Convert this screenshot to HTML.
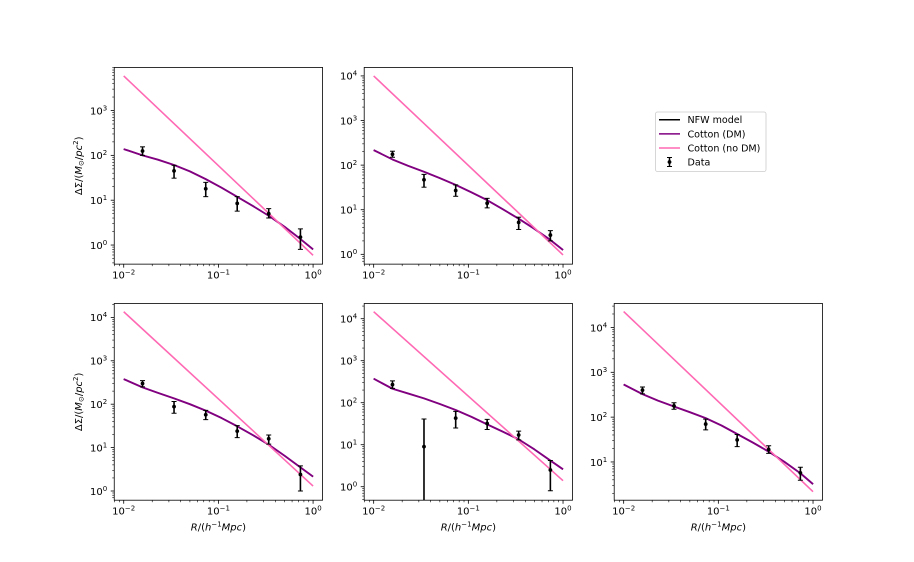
<!DOCTYPE html>
<html lang="en">
<head>
<meta charset="utf-8">
<title>Lensing profile panels</title>
<style>
html,body{margin:0;padding:0;background:#fff;}
svg{display:block;font-family:"DejaVu Sans","Liberation Sans",sans-serif;}
text{fill:#000;font-size:10px;}
.legend-text{font-size:9.55px;}
</style>
</head>
<body>
<svg id="figure" xmlns="http://www.w3.org/2000/svg" width="914" height="562" viewBox="0 0 914 562">
<rect width="914" height="562" fill="#fff"></rect>
<g id="panels"></g>
<g>
<rect x="655.5" y="112" width="110.5" height="59.5" rx="2" fill="#fff" fill-opacity="0.8" stroke="#ccc" stroke-width="0.8"></rect>
<g>
<line x1="659" x2="680" y1="119.7" y2="119.7" stroke="#000" stroke-width="1.5"></line>
<text class="legend-text" x="687.5" y="123.2">NFW model</text>
</g>
<g>
<line x1="659" x2="680" y1="133.9" y2="133.9" stroke="#800080" stroke-width="1.5"></line>
<text class="legend-text" x="687.5" y="137.4">Cotton (DM)</text>
</g>
<g>
<line x1="659" x2="680" y1="148" y2="148" stroke="#ff69b4" stroke-width="1.5"></line>
<text class="legend-text" x="687.5" y="151.5">Cotton (no DM)</text>
</g>
<g>
<line x1="669.5" x2="669.5" y1="157.5" y2="166.5" stroke="#000" stroke-width="1.5"></line>
<line x1="667" x2="672" y1="157.5" y2="157.5" stroke="#000" stroke-width="1"></line>
<line x1="667" x2="672" y1="166.5" y2="166.5" stroke="#000" stroke-width="1"></line>
<circle cx="669.5" cy="162" r="1.9" fill="#000"></circle>
<text class="legend-text" x="687.5" y="165.7">Data</text>
</g>
</g>
</svg>
<script>
const dataRadius = [0.0158, 0.034, 0.0735, 0.158, 0.34, 0.735];
const curveRadius = [0.01, 0.0158, 0.023, 0.034, 0.05, 0.0735, 0.108, 0.158, 0.232, 0.34, 0.5, 0.735, 1.0];
const noDmRadius = [0.01, 1.0];
const xTickExponents = [-2, -1, 0];

const panel1Values = [125, 45, 18, 8.5, 5, 1.5];
const panel1Low = [100, 31, 12, 5.7, 4, 0.8];
const panel1High = [155, 60, 25, 12, 6.5, 2.3];
const panel1Nfw = [138, 100, 80, 61, 44, 29.5, 19, 11.9, 7.4, 4.5, 2.55, 1.36, 0.8];
const panel1Cotton = [138, 100, 80, 61, 44, 29.5, 19, 11.9, 7.4, 4.5, 2.55, 1.36, 0.8];
const panel1NoDm = [5900, 0.59];
const panel1YTicks = [0, 1, 2, 3];

const panel2Values = [175, 47, 27, 14, 5.2, 2.7];
const panel2Low = [150, 32, 20, 11, 3.6, 2];
const panel2High = [205, 62, 36, 18, 6.8, 3.4];
const panel2Nfw = [217, 134, 97, 71, 51, 36, 24.5, 16.4, 10.2, 6.3, 3.7, 2.1, 1.25];
const panel2Cotton = [217, 134, 97, 71, 51, 36, 24.5, 16.4, 10.2, 6.3, 3.7, 2.1, 1.25];
const panel2NoDm = [10000, 0.97];
const panel2YTicks = [0, 1, 2, 3, 4];

const panel3Values = [300, 88, 57, 24, 16, 2.4];
const panel3Low = [250, 62, 44, 17, 12, 1];
const panel3High = [350, 115, 72, 32, 19.5, 3.8];
const panel3Nfw = [379, 244, 182, 136, 100, 71, 48, 31, 19.3, 11.7, 6.5, 3.5, 2.14];
const panel3Cotton = [379, 244, 182, 136, 100, 71, 48, 31, 19.3, 11.7, 6.5, 3.5, 2.14];
const panel3NoDm = [13500, 1.3];
const panel3YTicks = [0, 1, 2, 3, 4];

const panel4Values = [270, 9, 43, 32, 17, 2.5];
const panel4Low = [220, 0.1, 25, 23, 13, 0.8];
const panel4High = [330, 41, 62, 40, 21, 4.2];
const panel4Nfw = [373, 215, 166, 127, 93, 67, 46, 30.5, 20.4, 13.4, 7.7, 4.2, 2.6];
const panel4Cotton = [373, 215, 166, 127, 93, 67, 46, 30.5, 20.4, 13.4, 7.7, 4.2, 2.6];
const panel4NoDm = [14700, 1.39];
const panel4YTicks = [0, 1, 2, 3, 4];

const panel5Values = [400, 178, 70, 31, 19, 5.7];
const panel5Low = [330, 150, 52, 22, 15.5, 3.9];
const panel5High = [470, 210, 90, 41, 23, 7.6];
const panel5Nfw = [535, 326, 234, 173, 129, 95, 65, 42, 27, 17, 10, 5.6, 3.2];
const panel5Cotton = [535, 326, 234, 173, 129, 95, 65, 42, 27, 17, 10, 5.6, 3.2];
const panel5NoDm = [22700, 2.17];
const panel5YTicks = [1, 2, 3, 4];

const SVG_NS = 'http://www.w3.org/2000/svg';
const AX_W = 208.3;
const AX_H = 196.7;
const COL_LEFT = [114.25, 364.2, 614.2];
const ROW_TOP = [67.44, 303.5];
const LOG_X_MIN = -2.1;
const LOG_X_MAX = 0.1;

const panels = [
  {id: 1, col: 0, row: 0, logMin: -0.426, logMax: 3.961, values: panel1Values, low: panel1Low, high: panel1High, nfw: panel1Nfw, cotton: panel1Cotton, noDm: panel1NoDm, yTicks: panel1YTicks, yLabel: true, xLabel: false},
  {id: 2, col: 1, row: 0, logMin: -0.22, logMax: 4.19, values: panel2Values, low: panel2Low, high: panel2High, nfw: panel2Nfw, cotton: panel2Cotton, noDm: panel2NoDm, yTicks: panel2YTicks, yLabel: false, xLabel: false},
  {id: 3, col: 0, row: 1, logMin: -0.212, logMax: 4.32, values: panel3Values, low: panel3Low, high: panel3High, nfw: panel3Nfw, cotton: panel3Cotton, noDm: panel3NoDm, yTicks: panel3YTicks, yLabel: true, xLabel: true},
  {id: 4, col: 1, row: 1, logMin: -0.321, logMax: 4.362, values: panel4Values, low: panel4Low, high: panel4High, nfw: panel4Nfw, cotton: panel4Cotton, noDm: panel4NoDm, yTicks: panel4YTicks, yLabel: false, xLabel: true},
  {id: 5, col: 2, row: 1, logMin: 0.147, logMax: 4.535, values: panel5Values, low: panel5Low, high: panel5High, nfw: panel5Nfw, cotton: panel5Cotton, noDm: panel5NoDm, yTicks: panel5YTicks, yLabel: false, xLabel: true}
];

function mk(tag, attrs, parent) {
  const el = document.createElementNS(SVG_NS, tag);
  for (const k in attrs) el.setAttribute(k, attrs[k]);
  parent.appendChild(el);
  return el;
}

function addSpan(parent, content, opts) {
  const s = mk('tspan', opts || {}, parent);
  s.textContent = content;
  return s;
}

function powerLabel(parent, exponent, attrs) {
  const t = mk('text', attrs, parent);
  addSpan(t, '10');
  addSpan(t, (exponent < 0 ? '\u2212' : '') + Math.abs(exponent), {dy: '-4', style: 'font-size:7px'});
  return t;
}

const root = document.getElementById('panels');

panels.forEach(function (p) {
  const left = COL_LEFT[p.col];
  const top = ROW_TOP[p.row];
  const sx = function (r) { return left + (Math.log10(r) - LOG_X_MIN) / (LOG_X_MAX - LOG_X_MIN) * AX_W; };
  const sy = function (v) { return top + AX_H - (Math.log10(v) - p.logMin) / (p.logMax - p.logMin) * AX_H; };
  const pts = function (xs, ys) { return xs.map(function (x, i) { return sx(x).toFixed(2) + ',' + sy(ys[i]).toFixed(2); }).join(' '); };

  const g = mk('g', {}, root);
  
  

  const clip = mk('clipPath', {id: 'clip-' + p.id}, g);
  mk('rect', {x: left, y: top, width: AX_W, height: AX_H}, clip);

  const marks = mk('g', {'clip-path': 'url(#clip-' + p.id + ')'}, g);
  
  

  const nfwLine = mk('polyline', {points: pts(curveRadius, p.nfw), fill: 'none', stroke: '#000', 'stroke-width': 1.2}, marks);
  
  

  const cottonLine = mk('polyline', {points: pts(curveRadius, p.cotton), fill: 'none', stroke: '#800080', 'stroke-width': 1.9, 'stroke-linejoin': 'round'}, marks);
  
  

  const noDmLine = mk('polyline', {points: pts(noDmRadius, p.noDm), fill: 'none', stroke: '#ff69b4', 'stroke-width': 1.6}, marks);
  
  

  dataRadius.forEach(function (r, i) {
    const pt = mk('g', {}, marks);
    
    
    const x = sx(r);
    mk('line', {x1: x, x2: x, y1: sy(p.low[i]), y2: sy(p.high[i]), stroke: '#000', 'stroke-width': 1.6}, pt);
    mk('line', {x1: x - 2.5, x2: x + 2.5, y1: sy(p.low[i]), y2: sy(p.low[i]), stroke: '#000', 'stroke-width': 1}, pt);
    mk('line', {x1: x - 2.5, x2: x + 2.5, y1: sy(p.high[i]), y2: sy(p.high[i]), stroke: '#000', 'stroke-width': 1}, pt);
    mk('circle', {cx: x, cy: sy(p.values[i]), r: 1.9, fill: '#000'}, pt);
  });

  const frame = mk('rect', {x: left, y: top, width: AX_W, height: AX_H, fill: 'none', stroke: '#000', 'stroke-width': 0.8}, g);
  
  

  const xAxis = mk('g', {}, g);
  
  
  const bottom = top + AX_H;

  for (let d = -3; d <= 0; d++) {
    for (let k = 2; k <= 9; k++) {
      const val = k * Math.pow(10, d);
      const lg = Math.log10(val);
      if (lg < LOG_X_MIN || lg > LOG_X_MAX) continue;
      const x = sx(val);
      mk('line', {x1: x, x2: x, y1: bottom, y2: bottom + 2, stroke: '#000', 'stroke-width': 0.6}, xAxis);
    }
  }
  xTickExponents.forEach(function (e) {
    const x = sx(Math.pow(10, e));
    mk('line', {x1: x, x2: x, y1: bottom, y2: bottom + 3.5, stroke: '#000', 'stroke-width': 0.8}, xAxis);
    const lab = powerLabel(xAxis, e, {x: x, y: bottom + 14.5, 'text-anchor': 'middle'});
    
    
  });

  const yAxis = mk('g', {}, g);
  
  
  for (let d = Math.floor(p.logMin); d <= Math.floor(p.logMax); d++) {
    for (let k = 2; k <= 9; k++) {
      const val = k * Math.pow(10, d);
      const lg = Math.log10(val);
      if (lg < p.logMin || lg > p.logMax) continue;
      const y = sy(val);
      mk('line', {x1: left - 2, x2: left, y1: y, y2: y, stroke: '#000', 'stroke-width': 0.6}, yAxis);
    }
  }
  p.yTicks.forEach(function (e) {
    const y = sy(Math.pow(10, e));
    mk('line', {x1: left - 3.5, x2: left, y1: y, y2: y, stroke: '#000', 'stroke-width': 0.8}, yAxis);
    const lab = powerLabel(yAxis, e, {x: left - 7, y: y + 3.8, 'text-anchor': 'end'});
    
    
  });

  if (p.yLabel) {
    const cy = top + AX_H / 2;
    const yt = mk('text', {x: 0, y: 0, 'text-anchor': 'middle', transform: 'translate(' + (left - 32.5) + ' ' + cy + ') rotate(-90)'}, g);
    
    
    addSpan(yt, '\u0394\u03A3/(');
    addSpan(yt, 'M', {'font-style': 'italic'});
    addSpan(yt, '\u2299', {dy: '1.5', style: 'font-size:7px'});
    addSpan(yt, '/', {dy: '-1.5'});
    addSpan(yt, 'pc', {'font-style': 'italic'});
    addSpan(yt, '2', {dy: '-4', style: 'font-size:7px'});
    addSpan(yt, ')', {dy: '4'});
  }

  if (p.xLabel) {
    const xt = mk('text', {x: left + AX_W / 2, y: bottom + 30.5, 'text-anchor': 'middle'}, g);
    
    
    addSpan(xt, 'R', {'font-style': 'italic'});
    addSpan(xt, '/(');
    addSpan(xt, 'h', {'font-style': 'italic'});
    addSpan(xt, '\u22121', {dy: '-4', style: 'font-size:7px'});
    addSpan(xt, 'Mpc', {dy: '4', 'font-style': 'italic'});
    addSpan(xt, ')');
  }
});
</script>
</body>
</html>
